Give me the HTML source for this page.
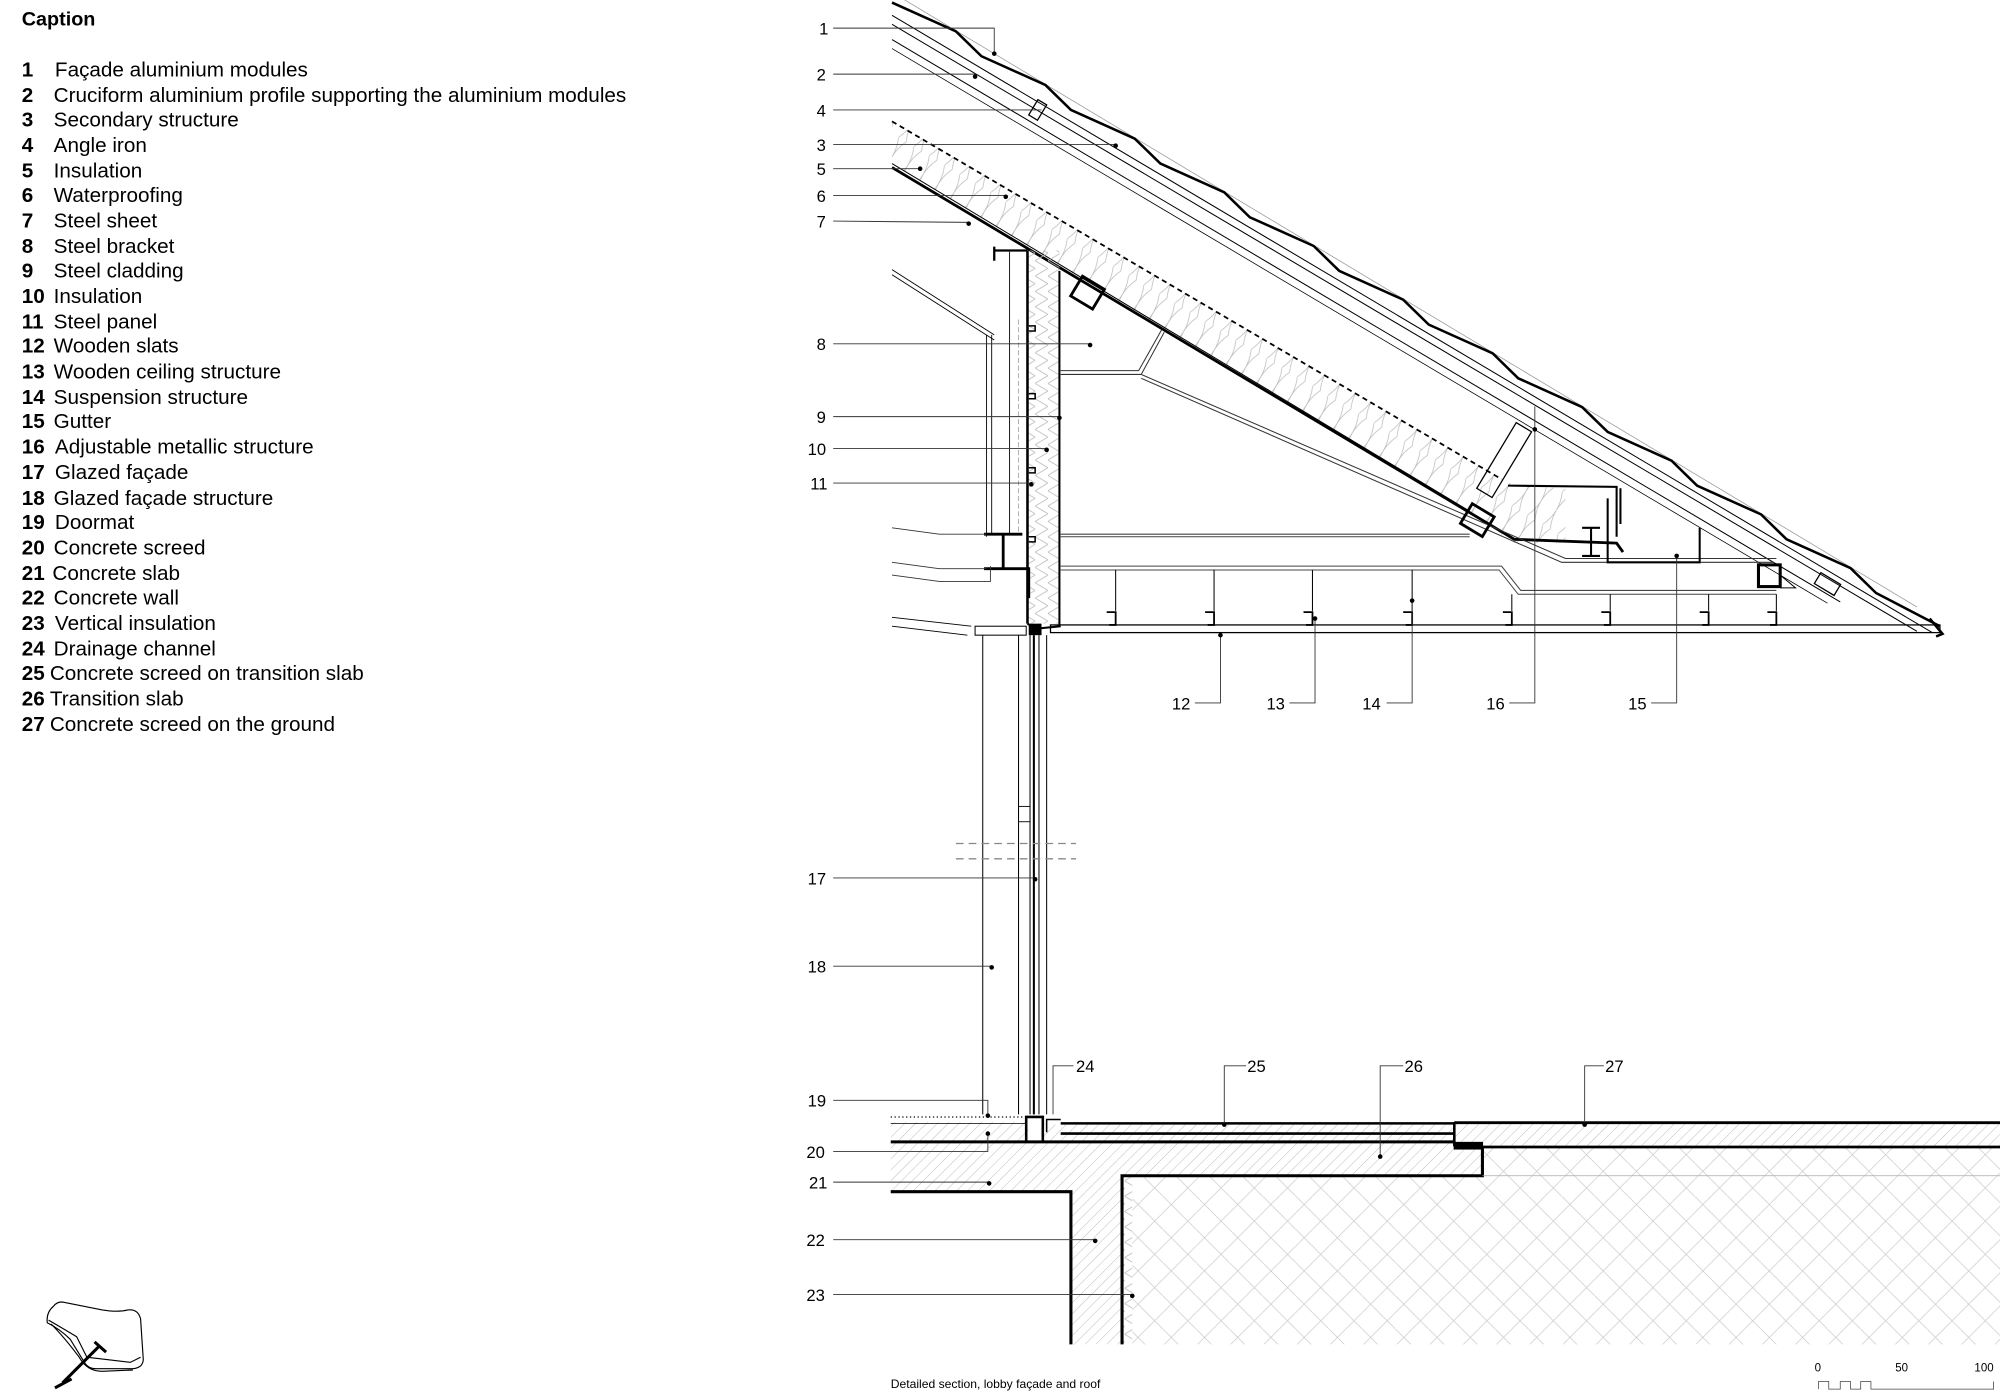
<!DOCTYPE html>
<html><head><meta charset="utf-8"><style>
html,body{margin:0;padding:0;background:#fff;}
svg{display:block}
text{font-family:"Liberation Sans",Arial,sans-serif;fill:#000}
</style></head><body>
<svg width="2000" height="1393" viewBox="0 0 1565 1090" preserveAspectRatio="none" xmlns="http://www.w3.org/2000/svg">
<defs>
<pattern id="hc" width="6" height="6" patternUnits="userSpaceOnUse" patternTransform="rotate(45)">
<line x1="0" y1="0" x2="0" y2="6" stroke="#aaa" stroke-width="0.6"/></pattern>
<pattern id="gr" width="26" height="26" patternUnits="userSpaceOnUse">
<path d="M0 13 L13 0 M13 26 L26 13 M0 0 L26 26" stroke="#ccc" stroke-width="0.6" fill="none"/></pattern>
<pattern id="ins" width="10" height="12" patternUnits="userSpaceOnUse">
<path d="M0 0 L10 6 L0 12" stroke="#bbb" stroke-width="0.6" fill="none"/></pattern>
<pattern id="ins2" width="14" height="30" patternUnits="userSpaceOnUse" patternTransform="rotate(31)">
<path d="M0 0 Q7 15 0 30 M7 0 Q0 15 7 30" stroke="#bbb" stroke-width="0.6" fill="none"/></pattern>
</defs>

<!-- Caption -->
<g font-size="16.2">
<text x="17" y="20" font-weight="bold" font-size="15.5">Caption</text>
<g font-weight="bold">
<text x="17" y="60">1</text><text x="17" y="80">2</text><text x="17" y="99">3</text><text x="17" y="119">4</text><text x="17" y="139">5</text><text x="17" y="158">6</text><text x="17" y="178">7</text><text x="17" y="198">8</text><text x="17" y="217">9</text><text x="17" y="237">10</text><text x="17" y="257">11</text><text x="17" y="276">12</text><text x="17" y="296">13</text><text x="17" y="316">14</text><text x="17" y="335">15</text><text x="17" y="355">16</text><text x="17" y="375">17</text><text x="17" y="395">18</text><text x="17" y="414">19</text><text x="17" y="434">20</text><text x="17" y="454">21</text><text x="17" y="473">22</text><text x="17" y="493">23</text><text x="17" y="513">24</text><text x="17" y="532">25</text><text x="17" y="552">26</text><text x="17" y="572">27</text>
</g>
<text x="43" y="60">Façade aluminium modules</text>
<text x="42" y="80">Cruciform aluminium profile supporting the aluminium modules</text>
<text x="42" y="99">Secondary structure</text>
<text x="42" y="119">Angle iron</text>
<text x="42" y="139">Insulation</text>
<text x="42" y="158">Waterproofing</text>
<text x="42" y="178">Steel sheet</text>
<text x="42" y="198">Steel bracket</text>
<text x="42" y="217">Steel cladding</text>
<text x="42" y="237">Insulation</text>
<text x="42" y="257">Steel panel</text>
<text x="42" y="276">Wooden slats</text>
<text x="42" y="296">Wooden ceiling structure</text>
<text x="42" y="316">Suspension structure</text>
<text x="42" y="335">Gutter</text>
<text x="43" y="355">Adjustable metallic structure</text>
<text x="43" y="375">Glazed façade</text>
<text x="42" y="395">Glazed façade structure</text>
<text x="43" y="414">Doormat</text>
<text x="42" y="434">Concrete screed</text>
<text x="41" y="454">Concrete slab</text>
<text x="42" y="473">Concrete wall</text>
<text x="43" y="493">Vertical insulation</text>
<text x="42" y="513">Drainage channel</text>
<text x="39" y="532">Concrete screed on transition slab</text>
<text x="39" y="552">Transition slab</text>
<text x="39" y="572">Concrete screed on the ground</text>
</g>

<!-- key plan -->
<g fill="none" stroke="#000" stroke-width="0.9">
<path d="M50 1019 L80 1025 Q92 1027 100 1025 Q108 1024 110 1032 L112 1062 Q113 1070 104 1071 L75 1071 Q69 1071 66 1066 L55 1048 Q47 1040 37 1035 Q36 1027 42 1022 Q45 1018 50 1019Z"/>
<path d="M38 1033 Q50 1040 60 1046 L68 1062 L102 1066 L110 1062"/>
<path d="M40 1036 Q50 1046 62 1062 Q68 1073 80 1073 L104 1072"/>
</g>
<path d="M43 1086 L56 1079 M49 1082 L78 1053 M74 1050 L83 1058" stroke="#000" stroke-width="2.4" fill="none"/>

<!-- ROOF -->
<g fill="none">
<line x1="698" y1="-6" x2="1500" y2="475" stroke="#999" stroke-width="0.6"/>
<polyline stroke="#000" stroke-width="2" points="698,2 748,24.5 768,44 818,66.5 838,86 888,108.5 908,128 958,150.5 978,170 1028,192.5 1048,212 1098,234.5 1118,254 1168,276.5 1188,296 1238,318.5 1258,338 1308,360.5 1328,380 1378,402.5 1398,422 1448,444.5 1468,464 1518,490"/>
<line x1="698" y1="12" x2="1512" y2="495" stroke="#000" stroke-width="0.8"/>
<line x1="698" y1="19" x2="1500" y2="494" stroke="#000" stroke-width="0.8"/>
<line x1="698" y1="31" x2="1440" y2="471" stroke="#000" stroke-width="0.8"/>
<line x1="698" y1="38" x2="1430" y2="472" stroke="#000" stroke-width="0.6"/>
<path d="M1510 484 L1520 496 L1515 498" stroke="#000" stroke-width="2"/>
<!-- insulation -->
<path d="M698 95 L1185 380 L1225 382 L1225 425 L1185 425 L1150 402 L698 128Z" fill="url(#ins2)" stroke="none"/>
<line x1="698" y1="95" x2="1175" y2="375" stroke="#000" stroke-width="1.4" stroke-dasharray="4,3"/>
<path d="M1180 380 L1265 381 L1265 420" stroke="#000" stroke-width="1.6"/>
<path d="M698 128 L1150 400" stroke="#000" stroke-width="0.8"/>
<path d="M698 131 L1185 422 L1265 425 L1270 432" stroke="#000" stroke-width="2.2"/>
<!-- steel bracket 8 -->
<path d="M778 262 L698 211 M778 266 L698 215" stroke="#000" stroke-width="0.7"/>
<path d="M830 290 L891 290 L909 258 M830 293 L893 293 L911 260" stroke="#333" stroke-width="0.8"/>
<path d="M893 293 L1225 437 L1390 437 M893 296 L1222 440 L1388 440" stroke="#333" stroke-width="0.8"/>
<path d="M830 418 L1150 418 M830 420 L1150 420" stroke="#444" stroke-width="0.8"/>
<path d="M830 443 L1175 443 L1190 462 L1390 462 M830 446 L1173 446 L1188 465 L1390 465" stroke="#444" stroke-width="0.8"/>
<!-- box tubes -->
<rect x="841" y="220" width="20" height="18" stroke="#000" stroke-width="2.2" transform="rotate(31 851 229)"/>
<rect x="1146" y="398" width="20" height="18" stroke="#000" stroke-width="2.2" transform="rotate(31 1156 407)"/>
<rect x="1376" y="442" width="17" height="17" stroke="#000" stroke-width="2.4"/>
<path d="M1393 450 L1405 460 L1393 460" stroke="#000" stroke-width="0.8"/>
<!-- adjustable struct 16 -->
<rect x="1170" y="330" width="14" height="60" stroke="#000" stroke-width="1" transform="rotate(31 1177 360)"/>
<rect x="1425" y="448" width="10" height="18" stroke="#000" stroke-width="1" transform="rotate(-59 1430 457)"/>
<rect x="808" y="79" width="8" height="14" stroke="#000" stroke-width="1" transform="rotate(31 812 86)"/>
<path d="M1245 413 L1245 435 M1238 413 L1252 413 M1238 435 L1252 435" stroke="#000" stroke-width="1.6"/>
<path d="M1258 390 L1258 440 L1330 440 L1330 413 M1268 382 L1268 410" stroke="#000" stroke-width="1.6"/>
<!-- ceiling -->
<rect x="822" y="489" width="696" height="6" stroke="#000" stroke-width="1"/>
<g stroke="#000" stroke-width="0.8">
<line x1="873" y1="446" x2="873" y2="478"/><line x1="950" y1="446" x2="950" y2="478"/><line x1="1027" y1="446" x2="1027" y2="478"/><line x1="1105" y1="446" x2="1105" y2="478"/><line x1="1183" y1="465" x2="1183" y2="478"/><line x1="1260" y1="465" x2="1260" y2="478"/><line x1="1337" y1="465" x2="1337" y2="478"/><line x1="1390" y1="465" x2="1390" y2="478"/>
</g>
<g stroke="#000" stroke-width="1.4">
<path d="M866 479 L873 479 L873 489 L868 489"/><path d="M943 479 L950 479 L950 489 L945 489"/><path d="M1020 479 L1027 479 L1027 489 L1022 489"/><path d="M1098 479 L1105 479 L1105 489 L1100 489"/><path d="M1176 479 L1183 479 L1183 489 L1178 489"/><path d="M1253 479 L1260 479 L1260 489 L1255 489"/><path d="M1330 479 L1337 479 L1337 489 L1332 489"/><path d="M1383 479 L1390 479 L1390 489 L1385 489"/>
</g>
<!-- wall -->
<rect x="804" y="196" width="25" height="292" fill="url(#ins)" stroke="none"/>
<line x1="804" y1="196" x2="804" y2="488" stroke="#000" stroke-width="2"/>
<line x1="829" y1="212" x2="829" y2="490" stroke="#000" stroke-width="1.6"/>
<path d="M804 488 L810 492 L830 490" stroke="#000" stroke-width="1.6"/>
<g stroke="#000" stroke-width="1.2"><path d="M805 255 h5 v4 h-5"/><path d="M805 308 h5 v4 h-5"/><path d="M805 366 h5 v4 h-5"/><path d="M805 420 h5 v4 h-5"/></g>
<path d="M778 200 L778 196 L804 196 M778 193 L778 204" stroke="#000" stroke-width="1.8"/>
<line x1="790" y1="197" x2="790" y2="418" stroke="#000" stroke-width="0.7"/>
<line x1="797" y1="250" x2="797" y2="418" stroke="#999" stroke-width="0.6" stroke-dasharray="4,2"/>
<line x1="776" y1="262" x2="776" y2="418" stroke="#000" stroke-width="0.7"/>
<line x1="772" y1="262" x2="772" y2="420" stroke="#000" stroke-width="0.7"/>
<path d="M770 418 L800 418 M785 418 L785 445 M770 445 L805 445 L805 468" stroke="#000" stroke-width="2.2"/>
<path d="M698 413 L735 418 L772 418 M698 440 L735 445 L772 445 M698 450 L735 455 L775 455 L775 443" stroke="#333" stroke-width="0.7"/>
<path d="M698 483 L760 490 M698 490 L757 497" stroke="#000" stroke-width="0.7"/>
<rect x="763" y="490" width="40" height="7" stroke="#000" stroke-width="0.8"/>
<rect x="805" y="488" width="10" height="9" fill="#000"/>
<!-- glazed facade -->
<g stroke="#000" stroke-width="0.8">
<line x1="769" y1="497" x2="769" y2="872"/><line x1="797" y1="497" x2="797" y2="872"/><line x1="819" y1="497" x2="819" y2="872"/>
<line x1="806" y1="497" x2="806" y2="872"/><line x1="813" y1="497" x2="813" y2="872"/>
</g>
<line x1="809" y1="497" x2="809" y2="872" stroke="#000" stroke-width="1.6"/>
<rect x="797" y="631" width="9" height="12" stroke="#000" stroke-width="0.7"/>
<line x1="748" y1="660" x2="842" y2="660" stroke="#888" stroke-width="1" stroke-dasharray="6,4"/>
<line x1="748" y1="672" x2="842" y2="672" stroke="#888" stroke-width="1" stroke-dasharray="6,4"/>
</g>

<!-- FLOOR -->
<g>
<path d="M697 878 L805 878 L805 893 L697 893Z" fill="url(#hc)"/>
<path d="M697 894 L1160 894 L1160 920 L878 920 L878 1052 L838 1052 L838 932 L697 932Z" fill="url(#hc)"/>
<path d="M817 880 L1138 880 L1138 893 L817 893Z" fill="url(#hc)"/>
<path d="M1138 878 L1565 878 L1565 897 L1138 897Z" fill="url(#hc)"/>
<path d="M1160 898 L1565 898 L1565 920 L1160 920Z" fill="url(#gr)"/>
<path d="M886 920 L1565 920 L1565 1052 L886 1052Z" fill="url(#gr)"/>
<rect x="878" y="920" width="8" height="132" fill="url(#ins)"/>
<g fill="none" stroke="#000">
<line x1="697" y1="874" x2="803" y2="874" stroke-width="1" stroke-dasharray="1,2"/>
<line x1="697" y1="879" x2="803" y2="879" stroke-width="0.6"/>
<path d="M697 893.5 L1138 893.5" stroke-width="2.4"/>
<path d="M803 893 L803 874 L816 874 L816 893" stroke-width="2"/>
<path d="M819 886 L819 876 L830 876" stroke-width="1.2"/>
<path d="M830 879 L1138 879 M830 887 L1138 887" stroke-width="2"/>
<path d="M1138 878 L1138 897" stroke-width="2"/>
<path d="M1138 878.5 L1565 878.5" stroke-width="2.2"/>
<path d="M1160 897.5 L1565 897.5" stroke-width="2.2"/>
<rect x="1138" y="894" width="22" height="5" fill="#000"/>
<path d="M1160 897 L1160 920 L878 920 L878 1052" stroke-width="2.4"/>
<path d="M697 932.5 L838 932.5 L838 1052" stroke-width="2.4"/>
<line x1="1160" y1="920" x2="1565" y2="920" stroke="#aaa" stroke-width="0.6"/>
</g>
</g>

<!-- leaders -->
<g stroke="#333" stroke-width="0.7" fill="none">
<path d="M652 22 L778 22 L778 42"/>
<path d="M652 58 L763 58 L763 60"/>
<path d="M652 86 L815 86"/>
<path d="M652 113 L873 113"/>
<path d="M652 132 L720 132"/>
<path d="M652 153 L787 153"/>
<path d="M652 173 L758 174"/>
<path d="M652 269 L853 269"/>
<path d="M652 326 L829 326"/>
<path d="M652 351 L819 351"/>
<path d="M652 378 L807 378"/>
<path d="M652 687 L810 687"/>
<path d="M652 756 L776 756"/>
<path d="M652 861 L773 861 L773 873"/>
<path d="M652 901 L773 901 L773 887"/>
<path d="M652 925 L774 925"/>
<path d="M652 970 L857 970"/>
<path d="M652 1013 L886 1013"/>
<path d="M935 550 L955 550 L955 497"/>
<path d="M1009 550 L1029 550 L1029 484"/>
<path d="M1085 550 L1105 550 L1105 470"/>
<path d="M1181 550 L1201 550 L1201 318"/>
<path d="M1292 550 L1312 550 L1312 435"/>
<path d="M840 834 L824 834 L824 872"/>
<path d="M975 834 L958 834 L958 880"/>
<path d="M1098 834 L1080 834 L1080 905"/>
<path d="M1255 834 L1240 834 L1240 880"/>
</g>
<g fill="#000">
<circle cx="778" cy="42" r="1.8"/><circle cx="763" cy="60" r="1.8"/><circle cx="873" cy="114" r="1.8"/><circle cx="720" cy="132" r="1.8"/><circle cx="787" cy="154" r="1.8"/><circle cx="758" cy="175" r="1.8"/><circle cx="853" cy="270" r="1.8"/><circle cx="829" cy="327" r="1.8"/><circle cx="819" cy="352" r="1.8"/><circle cx="807" cy="379" r="1.8"/><circle cx="810" cy="688" r="1.8"/><circle cx="776" cy="757" r="1.8"/><circle cx="773" cy="873" r="1.8"/><circle cx="773" cy="887" r="1.8"/><circle cx="774" cy="926" r="1.8"/><circle cx="857" cy="971" r="1.8"/><circle cx="886" cy="1014" r="1.8"/><circle cx="955" cy="497" r="1.8"/><circle cx="1029" cy="484" r="1.8"/><circle cx="1105" cy="470" r="1.8"/><circle cx="1201" cy="336" r="1.8"/><circle cx="1312" cy="435" r="1.8"/><circle cx="958" cy="880" r="1.8"/><circle cx="1080" cy="905" r="1.8"/><circle cx="1240" cy="880" r="1.8"/>
</g>
<g font-size="13">
<text x="641" y="27">1</text><text x="639" y="63">2</text><text x="639" y="91">4</text><text x="639" y="118">3</text><text x="639" y="137">5</text><text x="639" y="158">6</text><text x="639" y="178">7</text><text x="639" y="274">8</text><text x="639" y="331">9</text><text x="632" y="356">10</text><text x="634" y="383">11</text><text x="632" y="692">17</text><text x="632" y="761">18</text><text x="632" y="866">19</text><text x="631" y="906">20</text><text x="633" y="930">21</text><text x="631" y="975">22</text><text x="631" y="1018">23</text>
<text x="917" y="555">12</text><text x="991" y="555">13</text><text x="1066" y="555">14</text><text x="1163" y="555">16</text><text x="1274" y="555">15</text>
<text x="842" y="839">24</text><text x="976" y="839">25</text><text x="1099" y="839">26</text><text x="1256" y="839">27</text>
</g>
<text x="697" y="1086" font-size="9.5">Detailed section, lobby façade and roof</text>
<g font-size="9"><text x="1420" y="1073">0</text><text x="1483" y="1073">50</text><text x="1545" y="1073">100</text></g>
<path d="M1423 1087 L1423 1081 L1431 1081 L1431 1087 L1440 1087 L1440 1081 L1448 1081 L1448 1087 L1456 1087 L1456 1081 L1464 1081 L1464 1087 L1560 1087 L1560 1081" stroke="#444" stroke-width="0.6" fill="none"/>
</svg>
</body></html>
